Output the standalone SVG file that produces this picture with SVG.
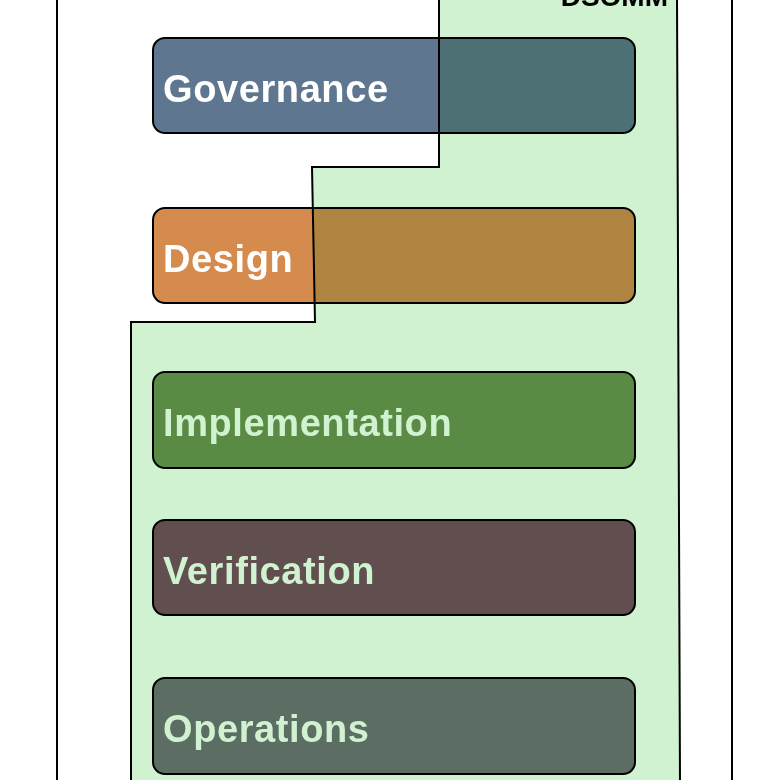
<svg xmlns="http://www.w3.org/2000/svg" width="770" height="780" viewBox="0 0 770 780">
<style>
.b{stroke:#000;stroke-width:2}
.t{font-family:"Liberation Sans",Arial,sans-serif;font-weight:bold;font-size:38px;letter-spacing:0.6px;fill:#fff}
</style>
<rect width="770" height="780" fill="#fff"/>
<g id="frame"><line x1="57" y1="0" x2="57" y2="780" stroke="#000" stroke-width="2"/><line x1="732" y1="0" x2="732" y2="780" stroke="#000" stroke-width="2"/></g>
<g id="governance"><rect class="b" x="153" y="38" width="482" height="95" rx="12" fill="#5e7690"/><text class="t" x="163" y="102">Governance</text></g>
<g id="design"><rect class="b" x="153" y="208" width="482" height="95" rx="12" fill="#d58b4e"/><text class="t" x="163" y="272">Design</text></g>
<g id="implementation"><rect class="b" x="153" y="372" width="482" height="96" rx="12" fill="#6e9353"/><text class="t" x="163" y="436">Implementation</text></g>
<g id="verification"><rect class="b" x="153" y="520" width="482" height="95" rx="12" fill="#755360"/><text class="t" x="163" y="584">Verification</text></g>
<g id="operations"><rect class="b" x="153" y="678" width="482" height="96" rx="12" fill="#717479"/><text class="t" x="163" y="742">Operations</text></g>
<g id="dsomm">
<polygon points="439,-5 677,-5 680,785 131,785 131,322 315,322 312,167 439,167" fill="#d0f2d0" stroke="#000" stroke-width="2" style="mix-blend-mode:multiply"/>
<text x="668" y="6" text-anchor="end" font-family="Liberation Sans,Arial,sans-serif" font-weight="bold" font-size="28">DSOMM</text>
</g>
</svg>
